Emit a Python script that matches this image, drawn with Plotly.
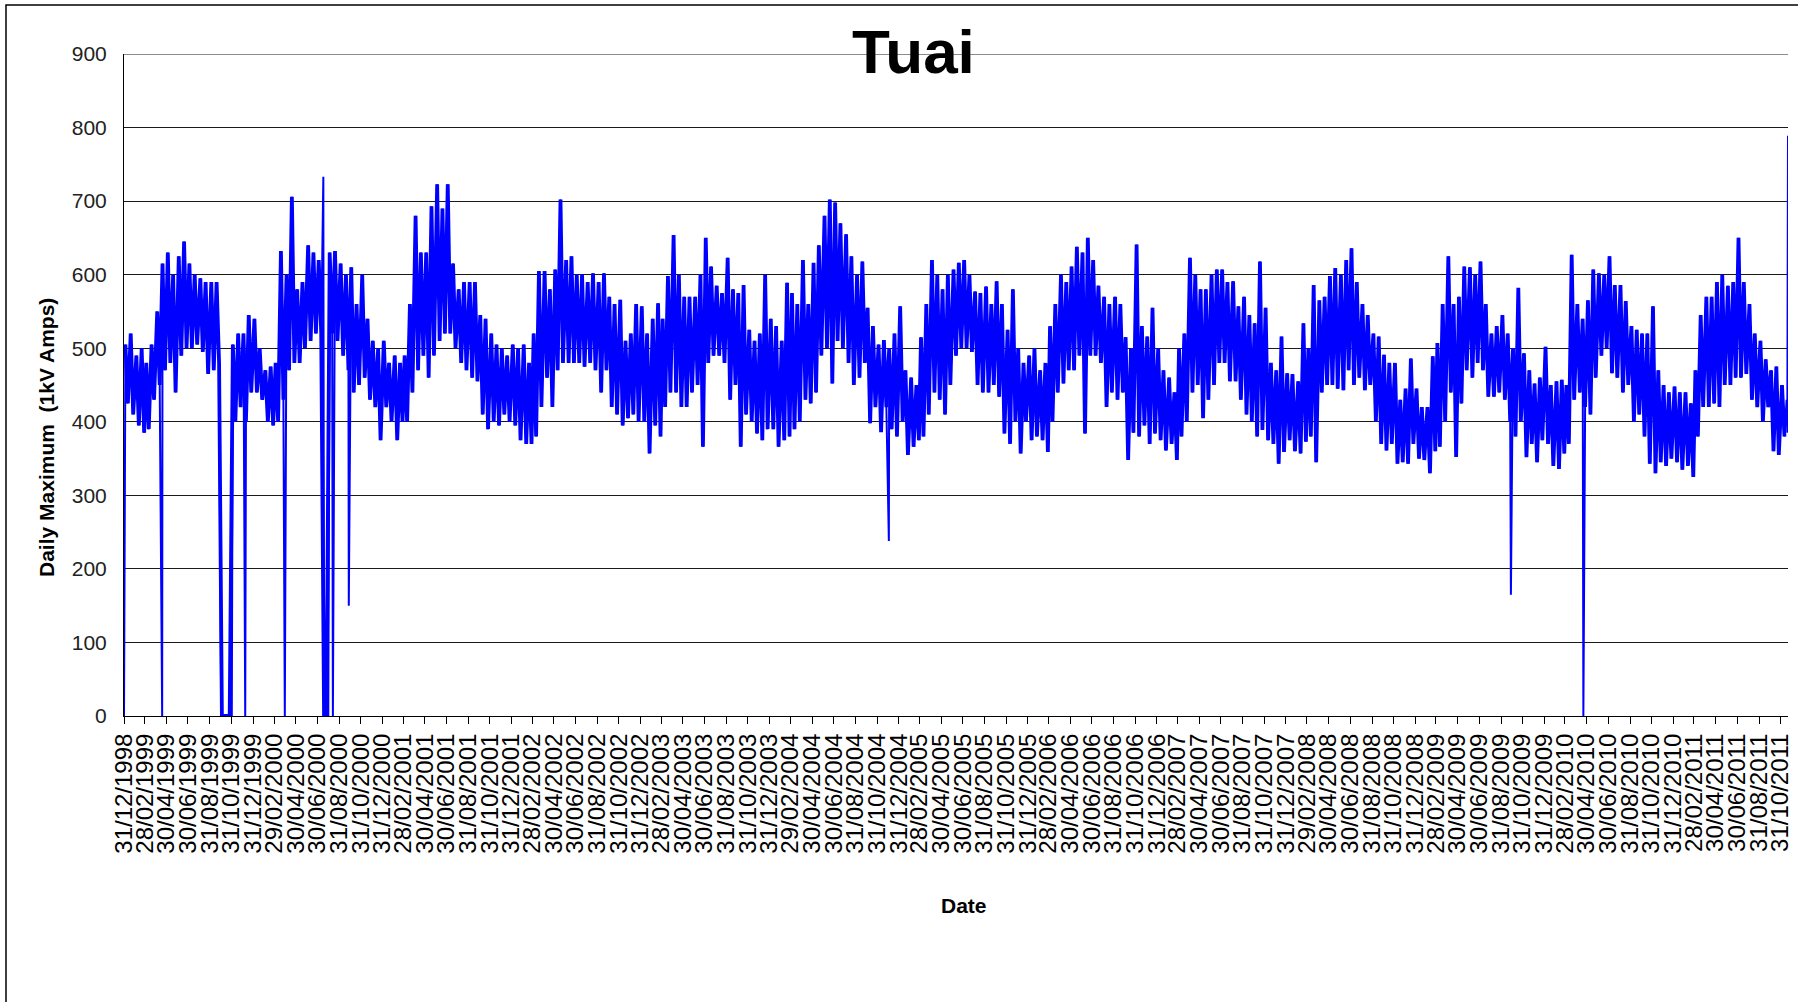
import calendar
import datetime as dt
import plotly.graph_objects as go

# ---------------- data ----------------
# Half-month upper (HI) and lower (LO) readings of the daily maximum,
# order: Jan H1, Jan H2, Feb H1, Feb H2, ... Dec H1, Dec H2
HI_1999 = [505, 520, 490, 500, 480, 505, 550, 615, 630, 600, 625, 645, 615, 600, 595, 590, 590, 590, 0, 0, 505, 520, 520, 545]
LO_1999 = [425, 410, 395, 385, 390, 430, 450, 470, 480, 440, 490, 500, 500, 505, 495, 465, 470, 480, 0, 0, 400, 420, 400, 440]
HI_2000 = [540, 500, 470, 475, 480, 632, 600, 706, 580, 590, 640, 630, 620, 0, 630, 632, 615, 600, 610, 560, 600, 540, 510, 500]
LO_2000 = [440, 430, 400, 395, 400, 430, 470, 480, 480, 500, 510, 520, 520, 0, 520, 510, 490, 470, 440, 450, 460, 430, 420, 375]
HI_2001 = [510, 480, 490, 480, 490, 560, 680, 630, 630, 693, 723, 690, 723, 615, 580, 590, 590, 590, 545, 540, 520, 505, 500, 490]
LO_2001 = [420, 400, 375, 400, 400, 440, 470, 490, 460, 490, 510, 520, 520, 500, 480, 470, 460, 455, 410, 390, 400, 395, 410, 400]
HI_2002 = [505, 500, 505, 480, 520, 605, 605, 580, 607, 702, 620, 625, 600, 600, 590, 602, 590, 602, 570, 560, 566, 510, 520, 560]
LO_2002 = [395, 375, 370, 370, 380, 420, 460, 420, 470, 480, 480, 480, 480, 475, 480, 470, 440, 470, 420, 410, 395, 405, 410, 400]
HI_2003 = [557, 520, 540, 561, 540, 598, 654, 600, 570, 570, 570, 600, 650, 611, 585, 575, 623, 580, 575, 586, 525, 510, 520, 600]
LO_2003 = [400, 357, 395, 380, 420, 440, 440, 420, 420, 440, 450, 366, 480, 490, 490, 480, 430, 450, 366, 410, 400, 384, 375, 390]
HI_2004 = [540, 530, 510, 589, 575, 560, 620, 560, 616, 640, 680, 702, 698, 670, 655, 625, 600, 618, 555, 530, 505, 511, 500, 520]
LO_2004 = [390, 366, 375, 380, 390, 400, 430, 425, 440, 490, 500, 452, 510, 500, 480, 450, 460, 480, 398, 420, 386, 420, 390, 380]
HI_2005 = [557, 470, 460, 450, 515, 560, 620, 600, 580, 600, 607, 616, 620, 600, 577, 575, 584, 560, 591, 560, 525, 580, 500, 480]
LO_2005 = [400, 355, 366, 375, 380, 410, 440, 430, 410, 450, 490, 500, 500, 495, 450, 440, 440, 450, 434, 384, 370, 400, 357, 400]
HI_2006 = [490, 500, 470, 480, 530, 560, 600, 590, 611, 638, 630, 650, 620, 585, 570, 560, 570, 560, 515, 500, 641, 530, 516, 555]
LO_2006 = [375, 380, 375, 359, 400, 440, 452, 470, 470, 490, 384, 490, 490, 480, 420, 440, 430, 440, 348, 385, 380, 395, 370, 384]
HI_2007 = [500, 470, 460, 440, 500, 520, 623, 600, 580, 580, 600, 607, 607, 590, 591, 557, 570, 545, 534, 618, 555, 480, 470, 516]
LO_2007 = [375, 361, 370, 348, 380, 400, 440, 450, 405, 430, 450, 480, 480, 455, 455, 430, 410, 400, 380, 389, 375, 370, 343, 359]
HI_2008 = [466, 465, 455, 534, 500, 586, 565, 570, 598, 609, 600, 620, 636, 590, 560, 545, 520, 516, 491, 480, 480, 430, 445, 486]
LO_2008 = [375, 360, 357, 373, 380, 345, 440, 450, 450, 445, 443, 470, 450, 460, 443, 450, 400, 370, 361, 370, 343, 345, 343, 370]
HI_2009 = [445, 420, 420, 489, 507, 560, 625, 560, 570, 611, 610, 600, 618, 560, 520, 530, 545, 520, 500, 582, 493, 470, 452, 460]
LO_2009 = [350, 348, 330, 360, 366, 400, 440, 352, 425, 470, 460, 480, 470, 434, 434, 440, 430, 400, 380, 400, 352, 370, 345, 375]
HI_2010 = [502, 450, 455, 457, 450, 627, 560, 540, 565, 607, 602, 600, 625, 586, 586, 564, 530, 525, 520, 520, 557, 470, 450, 440]
LO_2010 = [370, 340, 336, 357, 370, 430, 440, 420, 410, 460, 490, 500, 466, 460, 440, 450, 400, 410, 380, 343, 330, 345, 340, 350]
HI_2011 = [448, 440, 440, 425, 470, 545, 570, 570, 590, 600, 585, 590, 650, 590, 560, 520, 510, 485, 470, 475, 450]
LO_2011 = [345, 335, 340, 325, 380, 420, 420, 425, 420, 450, 450, 460, 460, 465, 430, 420, 400, 420, 360, 355, 380]

# Individual readings: outages (0), dips and isolated spikes
EVENT_DATES = ["1998-12-31", "1999-04-18", "1999-10-02", "1999-11-01", "1999-12-09",
               "2000-03-30", "2000-07-17", "2000-07-18", "2000-07-31", "2000-08-13",
               "2000-09-27", "2004-12-03", "2009-09-28", "2010-04-21",
               "2011-11-17", "2011-11-19", "2011-11-21"]
EVENT_VALUES = [0, 0, 0, 0, 0,
                0, 733, 0, 0, 0,
                150, 238, 165, 0,
                430, 385, 789]

Y_TICKS = [0, 100, 200, 300, 400, 500, 600, 700, 800, 900]
Y_TOP = 900
X_TICK_FIRST = (1998, 12)
X_TICK_LAST = (2011, 10)
X_TICK_STEP_MONTHS = 2
X_RANGE = ["1998-12-31", "2011-11-21"]

TITLE = "Tuai"
Y_TITLE = "Daily Maximum\u00a0\u00a0(1kV Amps)"
X_TITLE = "Date"

# ---------------- build the series ----------------
YEARS = {1999: (HI_1999, LO_1999), 2000: (HI_2000, LO_2000), 2001: (HI_2001, LO_2001),
         2002: (HI_2002, LO_2002), 2003: (HI_2003, LO_2003), 2004: (HI_2004, LO_2004),
         2005: (HI_2005, LO_2005), 2006: (HI_2006, LO_2006), 2007: (HI_2007, LO_2007),
         2008: (HI_2008, LO_2008), 2009: (HI_2009, LO_2009), 2010: (HI_2010, LO_2010),
         2011: (HI_2011, LO_2011)}

band = []
for year, (hi, lo) in YEARS.items():
    for k in range(len(hi)):
        month = k // 2 + 1
        first_half = (k % 2 == 0)
        band.append((dt.date(year, month, 4 if first_half else 19), hi[k]))
        band.append((dt.date(year, month, 11 if first_half else 26), lo[k]))
events = [(dt.date.fromisoformat(d), v) for d, v in zip(EVENT_DATES, EVENT_VALUES)]
full = sorted(band + events, key=lambda p: p[0])

band_x = [p[0].isoformat() for p in band]
band_y = [p[1] for p in band]
full_x = [p[0].isoformat() for p in full]
full_y = [p[1] for p in full]

# month-end tick dates every two months
tick_vals, tick_text = [], []
y_, m_ = X_TICK_FIRST
while (y_, m_) <= X_TICK_LAST:
    d = dt.date(y_, m_, calendar.monthrange(y_, m_)[1])
    tick_vals.append(d.isoformat())
    tick_text.append(d.strftime("%d/%m/%Y"))
    m_ += X_TICK_STEP_MONTHS
    if m_ > 12:
        m_ -= 12
        y_ += 1

# ---------------- layout geometry (page pixels; body margin removed below) ----------------
W, H = 1798, 1002
L, R, T, B = 124, 10, 54, 286
PW, PH = W - L - R, H - T - B


def px(xp):
    return (xp - L) / PW


def py(yp):
    return (H - B - yp) / PH


FONT = "Liberation Sans, Arial, sans-serif"
BLUE = "#0000ff"

fig = go.Figure()
# dense daily band (half-month highs/lows), drawn a touch heavier
fig.add_trace(go.Scatter(x=band_x, y=band_y, mode="lines", line=dict(color=BLUE, width=3.8),
                         hoverinfo="skip", showlegend=False))
# complete series including outages and isolated spikes
fig.add_trace(go.Scatter(x=full_x, y=full_y, mode="lines", line=dict(color=BLUE, width=2),
                         hoverinfo="skip", showlegend=False))

fig.update_layout(
    width=W, height=H,
    margin=dict(l=L, r=R, t=T, b=B, autoexpand=False),
    paper_bgcolor="white", plot_bgcolor="white",
    font=dict(family=FONT, color="#000"),
    hovermode=False,
    xaxis=dict(type="date", range=X_RANGE, tickmode="array", tickvals=tick_vals, ticktext=tick_text,
               tickangle=-90, ticks="outside", ticklen=7, tickwidth=1, tickcolor="#000",
               ticklabeloverflow="allow",
               showline=True, linecolor="#000", linewidth=1, showgrid=False, zeroline=False,
               tickfont=dict(family=FONT, size=24, color="#000")),
    yaxis=dict(range=[0, Y_TOP], tickmode="array", tickvals=Y_TICKS, showgrid=True,
               gridcolor="#1a1a1a", gridwidth=1, showline=True, linecolor="#000", linewidth=1,
               zeroline=False, ticks="outside", ticklen=12, tickcolor="rgba(0,0,0,0)",
               tickfont=dict(family=FONT, size=21, color="#222")),
    annotations=[
        dict(text="<b>" + TITLE + "</b>", xref="paper", yref="paper", x=px(913), y=py(52),
             xanchor="center", yanchor="middle", showarrow=False,
             font=dict(family=FONT, size=62, color="#000")),
        dict(text="<b>" + Y_TITLE + "</b>", xref="paper", yref="paper", x=px(46), y=py(438),
             xanchor="center", yanchor="middle", showarrow=False, textangle=-90,
             font=dict(family=FONT, size=21, color="#000")),
        dict(text="<b>" + X_TITLE + "</b>", xref="paper", yref="paper", x=px(964), y=py(905),
             xanchor="center", yanchor="middle", showarrow=False,
             font=dict(family=FONT, size=21, color="#000")),
    ],
    shapes=[
        dict(type="line", xref="paper", yref="y", x0=0, x1=1, y0=Y_TOP, y1=Y_TOP,
             line=dict(color="#1a1a1a", width=1), layer="below"),
        dict(type="rect", xref="paper", yref="paper", x0=px(6), y0=py(2000), x1=px(3000), y1=py(5),
             line=dict(color="#000", width=1.5), fillcolor="rgba(0,0,0,0)", layer="below"),
    ],
)

fig.write_html("out.html", config={"displayModeBar": False, "staticPlot": True},
               post_script="document.body.style.margin='0px';document.body.style.overflow='hidden';")
